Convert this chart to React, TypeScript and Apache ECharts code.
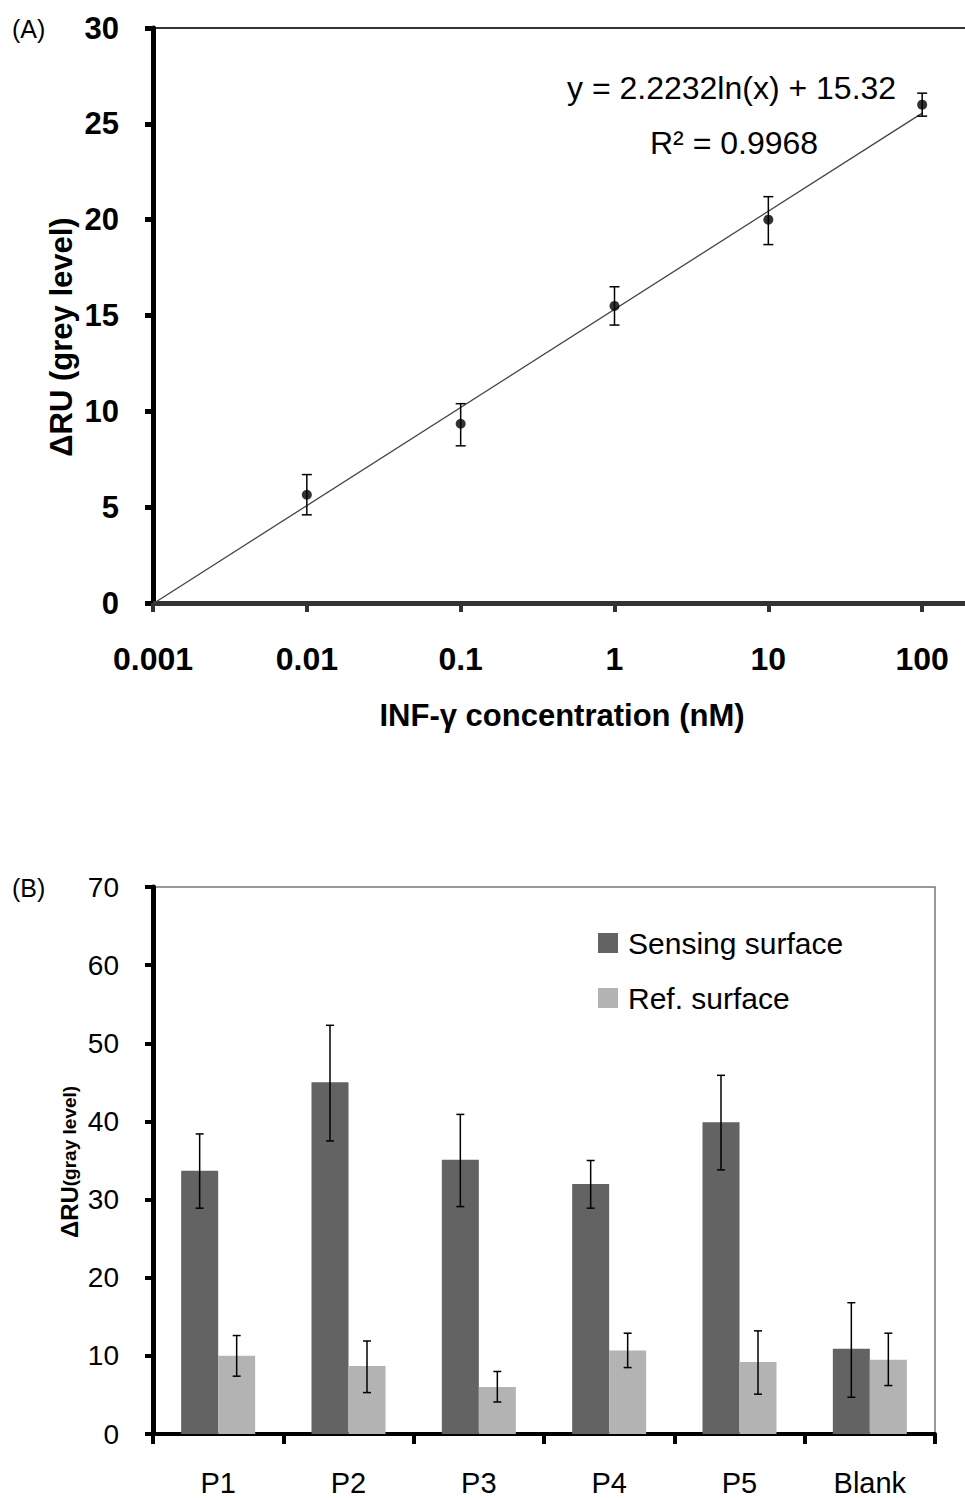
import React, { useEffect, useRef } from "react";
import * as echarts from "echarts";

// ---------- Panel A data ----------
const concentrations = [0.01, 0.1, 1, 10, 100];
const meanA = [5.65, 9.35, 15.5, 20.0, 26.0];
const lowA = [4.6, 8.2, 14.5, 18.7, 25.4];
const highA = [6.7, 10.4, 16.5, 21.2, 26.6];
const xTickLabelsA = ["0.001", "0.01", "0.1", "1", "10", "100"];
const fitSlope = 2.2232;
const fitIntercept = 15.32;
const fitRange = [0.001, 100];

// ---------- Panel B data ----------
const categoriesB = ["P1", "P2", "P3", "P4", "P5", "Blank"];
const sensing = [33.7, 45.0, 35.1, 32.0, 39.9, 10.9];
const sensingLow = [28.9, 37.5, 29.1, 28.9, 33.8, 4.7];
const sensingHigh = [38.4, 52.3, 40.9, 35.0, 45.9, 16.8];
const refSurf = [10.0, 8.7, 6.0, 10.7, 9.2, 9.5];
const refLow = [7.4, 5.3, 4.1, 8.5, 5.1, 6.2];
const refHigh = [12.6, 11.9, 8.0, 12.9, 13.2, 12.9];

const FONT = "Liberation Sans, Arial, sans-serif";
const BAR_W = 37;

function errRender(offset: number, cap: number) {
  return (params: any, api: any) => {
    const x = api.value(0);
    const lo = api.value(1);
    const hi = api.value(2);
    const p1 = api.coord([x, lo]);
    const p2 = api.coord([x, hi]);
    const cx = p1[0] + offset;
    const st = { stroke: "#000", lineWidth: 1.5 };
    return {
      type: "group",
      children: [
        { type: "line", shape: { x1: cx, y1: p1[1], x2: cx, y2: p2[1] }, style: st },
        { type: "line", shape: { x1: cx - cap, y1: p1[1], x2: cx + cap, y2: p1[1] }, style: st },
        { type: "line", shape: { x1: cx - cap, y1: p2[1], x2: cx + cap, y2: p2[1] }, style: st },
      ],
    };
  };
}

export default function App() {
  const ref = useRef<HTMLDivElement>(null);
  useEffect(() => {
    if (!ref.current) return;
    const chart = echarts.init(ref.current, null, { renderer: "svg" });
    const fit = (x: number) => fitSlope * Math.log(x) + fitIntercept;

    const option: any = {
      animation: false,
      backgroundColor: "#fff",
      grid: [
        { left: 153, top: 28, width: 923, height: 575, outerBoundsMode: "none", containLabel: false },
        { left: 153, top: 887, width: 782, height: 547, outerBoundsMode: "none", containLabel: false },
      ],
      xAxis: [
        {
          gridIndex: 0,
          type: "log",
          logBase: 10,
          min: 0.001,
          max: 1000,
          splitLine: { show: false },
          minorTick: { show: false },
          axisLine: { lineStyle: { color: "#333", width: 5 } },
          axisTick: { show: true, length: 9, lineStyle: { color: "#333", width: 4 } },
          axisLabel: {
            margin: 40,
            fontSize: 32,
            fontWeight: "bold",
            fontFamily: FONT,
            color: "#000",
            formatter: (v: number) => xTickLabelsA[Math.round(Math.log10(v)) + 3] || "",
          },
        },
        {
          gridIndex: 1,
          type: "category",
          data: categoriesB,
          axisLine: { lineStyle: { color: "#000", width: 4 } },
          axisTick: { show: true, length: 10, lineStyle: { color: "#000", width: 4 } },
          axisLabel: { margin: 34, fontSize: 29, fontFamily: FONT, color: "#000" },
        },
      ],
      yAxis: [
        {
          gridIndex: 0,
          type: "value",
          min: 0,
          max: 30,
          interval: 5,
          splitLine: { show: false },
          axisLine: { show: true, lineStyle: { color: "#000", width: 5 } },
          axisTick: { show: true, length: 8, lineStyle: { color: "#000", width: 5 } },
          axisLabel: { margin: 34, fontSize: 31, fontWeight: "bold", fontFamily: FONT, color: "#000" },
        },
        {
          gridIndex: 1,
          type: "value",
          min: 0,
          max: 70,
          interval: 10,
          splitLine: { show: false },
          axisLine: { show: true, lineStyle: { color: "#000", width: 5 } },
          axisTick: { show: true, length: 8, lineStyle: { color: "#000", width: 4 } },
          axisLabel: { margin: 34, fontSize: 28, fontFamily: FONT, color: "#000" },
        },
      ],
      legend: {
        orient: "vertical",
        left: 593,
        top: 923,
        itemWidth: 20,
        itemHeight: 20,
        itemGap: 25,
        icon: "rect",
        data: ["Sensing surface", "Ref. surface"],
        textStyle: { fontSize: 30, fontFamily: FONT, color: "#000", padding: [0, 0, 0, 5] },
      },
      series: [
        {
          name: "fit",
          type: "line",
          xAxisIndex: 0,
          yAxisIndex: 0,
          showSymbol: false,
          symbol: "none",
          data: fitRange.map((x) => [x, fit(x)]),
          lineStyle: { color: "#444", width: 1.3 },
          z: 2,
        },
        {
          name: "errA",
          type: "custom",
          xAxisIndex: 0,
          yAxisIndex: 0,
          renderItem: errRender(0, 5),
          encode: { x: 0, y: [1, 2] },
          data: concentrations.map((c, i) => [c, lowA[i], highA[i]]),
          z: 3,
        },
        {
          name: "points",
          type: "scatter",
          xAxisIndex: 0,
          yAxisIndex: 0,
          symbol: "circle",
          symbolSize: 10,
          itemStyle: { color: "#000" },
          data: concentrations.map((c, i) => [c, meanA[i]]),
          z: 4,
        },
        {
          name: "Sensing surface",
          type: "bar",
          xAxisIndex: 1,
          yAxisIndex: 1,
          barWidth: BAR_W,
          barGap: "0%",
          itemStyle: { color: "#636363" },
          data: sensing,
        },
        {
          name: "Ref. surface",
          type: "bar",
          xAxisIndex: 1,
          yAxisIndex: 1,
          barWidth: BAR_W,
          barGap: "0%",
          itemStyle: { color: "#b3b3b3" },
          data: refSurf,
        },
        {
          name: "errSensing",
          type: "custom",
          xAxisIndex: 1,
          yAxisIndex: 1,
          renderItem: errRender(-BAR_W / 2, 4),
          encode: { x: 0, y: [1, 2] },
          data: categoriesB.map((_, i) => [i, sensingLow[i], sensingHigh[i]]),
          z: 5,
        },
        {
          name: "errRef",
          type: "custom",
          xAxisIndex: 1,
          yAxisIndex: 1,
          renderItem: errRender(BAR_W / 2, 4),
          encode: { x: 0, y: [1, 2] },
          data: categoriesB.map((_, i) => [i, refLow[i], refHigh[i]]),
          z: 5,
        },
      ],
      graphic: [
        { type: "line", shape: { x1: 153, y1: 28, x2: 965, y2: 28 }, style: { stroke: "#333", lineWidth: 2 } },
        {
          type: "polyline",
          shape: { points: [[153, 887], [935, 887], [935, 1434]] },
          style: { stroke: "#777", lineWidth: 1.5, fill: "none" },
        },
        { type: "text", x: 12, y: 29, style: { text: "(A)", font: `25px ${FONT}`, fill: "#000", textVerticalAlign: "middle" } },
        { type: "text", x: 12, y: 888, style: { text: "(B)", font: `25px ${FONT}`, fill: "#000", textVerticalAlign: "middle" } },
        {
          type: "text",
          x: 567,
          y: 88,
          style: { text: "y = 2.2232ln(x) + 15.32", font: `32px ${FONT}`, fill: "#000", textVerticalAlign: "middle" },
        },
        {
          type: "text",
          x: 650,
          y: 143,
          style: { text: "R² = 0.9968", font: `32px ${FONT}`, fill: "#000", textVerticalAlign: "middle" },
        },
        {
          type: "text",
          x: 562,
          y: 715,
          style: {
            text: "INF-γ concentration (nM)",
            font: `bold 31px ${FONT}`,
            fill: "#000",
            textAlign: "center",
            textVerticalAlign: "middle",
          },
        },
        {
          type: "text",
          x: 61,
          y: 337,
          rotation: Math.PI / 2,
          style: {
            text: "ΔRU (grey level)",
            font: `bold 31px ${FONT}`,
            fill: "#000",
            textAlign: "center",
            textVerticalAlign: "middle",
          },
        },
        {
          type: "text",
          x: 69,
          y: 1162,
          rotation: Math.PI / 2,
          style: {
            text: "{a|ΔRU}{b|(gray level)}",
            fill: "#000",
            textAlign: "center",
            textVerticalAlign: "middle",
            rich: {
              a: { fontSize: 24, fontWeight: "bold", fontFamily: FONT, fill: "#000" },
              b: { fontSize: 19, fontWeight: "bold", fontFamily: FONT, fill: "#000" },
            },
          },
        },
      ],
    };
    chart.setOption(option);
    return () => chart.dispose();
  }, []);
  return (
    <div
      ref={ref}
      style={{ position: "absolute", left: 0, top: 0, width: 965, height: 1498, background: "#fff" }}
    />
  );
}
